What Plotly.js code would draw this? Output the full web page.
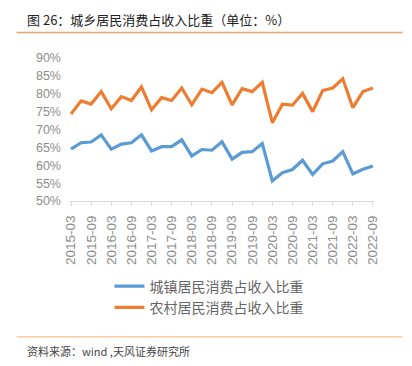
<!DOCTYPE html>
<html>
<head>
<meta charset="utf-8">
<script src="https://cdn.plot.ly/plotly-3.0.1.min.js"></script>
<style>html,body{margin:0;padding:0;background:#fff;}#chart{width:412px;height:366px;}</style>
</head>
<body>
<div id="chart"></div>
<script>
const quarters = ["2015-03","2015-06","2015-09","2015-12","2016-03","2016-06","2016-09","2016-12",
  "2017-03","2017-06","2017-09","2017-12","2018-03","2018-06","2018-09","2018-12",
  "2019-03","2019-06","2019-09","2019-12","2020-03","2020-06","2020-09","2020-12",
  "2021-03","2021-06","2021-09","2021-12","2022-03","2022-06","2022-09"];
const urbanShare = [64.5,66.3,66.5,68.5,64.5,65.9,66.3,68.5,64.0,65.2,65.2,67.1,62.6,64.4,64.2,66.6,
  61.7,63.6,63.8,66.1,55.6,57.9,58.8,61.4,57.4,60.4,61.2,63.8,57.6,58.9,59.8];
const ruralShare = [74.3,78.0,77.1,80.6,75.8,79.2,78.1,81.9,75.5,78.9,78.1,81.6,76.9,81.3,80.3,83.2,
  76.9,81.4,80.6,83.2,71.9,77.1,76.8,80.1,75.0,80.9,81.6,84.2,76.1,80.6,81.6];
const seriesNames = ["城镇居民消费占收入比重","农村居民消费占收入比重"];
const titleText = "图 26：城乡居民消费占收入比重（单位：%）";
const sourceText = "资料来源：wind ,天风证券研究所";

const W = 412, H = 366;
const mL = 69.5, mR = 38.3, mT = 58.3, mB = 165.3;
const pw = W - mL - mR;
const ph = H - mT - mB;
const toPX = px => (px - mL) / pw;
const toPY = py => (H - mB - py) / ph;

const cjk = '"Noto Sans CJK SC", "Noto Sans", sans-serif';
const data = [
  {x: quarters, y: urbanShare, name: seriesNames[0], type: 'scatter', mode: 'lines',
   line: {color: '#5B9BD5', width: 3.2}},
  {x: quarters, y: ruralShare, name: seriesNames[1], type: 'scatter', mode: 'lines',
   line: {color: '#ED7D31', width: 3.2}}
];
const layout = {
  width: W, height: H,
  margin: {l: mL, r: mR, t: mT, b: mB, pad: 0, autoexpand: false},
  paper_bgcolor: '#fff', plot_bgcolor: '#fff',
  showlegend: true,
  font: {family: '"Liberation Sans", Arial, sans-serif', color: '#888'},
  xaxis: {type: 'category', range: [-0.1, 30.1], tickmode: 'linear', tick0: 0, dtick: 2,
    tickangle: -90, showgrid: false, zeroline: false, showline: true, linecolor: '#D9D9D9', linewidth: 1,
    ticks: 'outside', ticklen: 4, tickcolor: '#D9D9D9', ticklabelstandoff: 4,
    tickfont: {size: 13.5, color: '#8c8c8c'}, fixedrange: true, automargin: false},
  yaxis: {range: [50, 90], dtick: 5, tick0: 50, ticksuffix: '%', showgrid: false, zeroline: false,
    showline: false, ticks: '', ticklabelstandoff: 8, tickfont: {size: 12.5, color: '#8c8c8c'},
    fixedrange: true, automargin: false},
  legend: {orientation: 'v', x: toPX(109), xanchor: 'left',
    y: toPY(270), yanchor: 'top', itemwidth: 30, font: {family: cjk, size: 14, color: '#666'},
    bgcolor: 'rgba(0,0,0,0)', tracegroupgap: 0},
  annotations: [
    {text: titleText, xref: 'paper', yref: 'paper', x: toPX(24), y: toPY(20), xanchor: 'left', yanchor: 'middle',
     showarrow: false, font: {family: cjk, size: 13, color: '#222'}},
    {text: sourceText, xref: 'paper', yref: 'paper', x: toPX(24), y: toPY(350), xanchor: 'left', yanchor: 'middle',
     showarrow: false, font: {family: cjk, size: 11, color: '#444'}}
  ],
  shapes: [
    {type: 'line', xref: 'paper', yref: 'paper', x0: toPX(16), x1: toPX(402), y0: toPY(33), y1: toPY(33),
     line: {color: '#F0A060', width: 1.5}},
    {type: 'line', xref: 'paper', yref: 'paper', x0: toPX(16), x1: toPX(402), y0: toPY(336), y1: toPY(336),
     line: {color: '#F9CBA0', width: 1.5}}
  ]
};
Plotly.newPlot('chart', data, layout, {displayModeBar: false, staticPlot: true});
</script>
</body>
</html>
